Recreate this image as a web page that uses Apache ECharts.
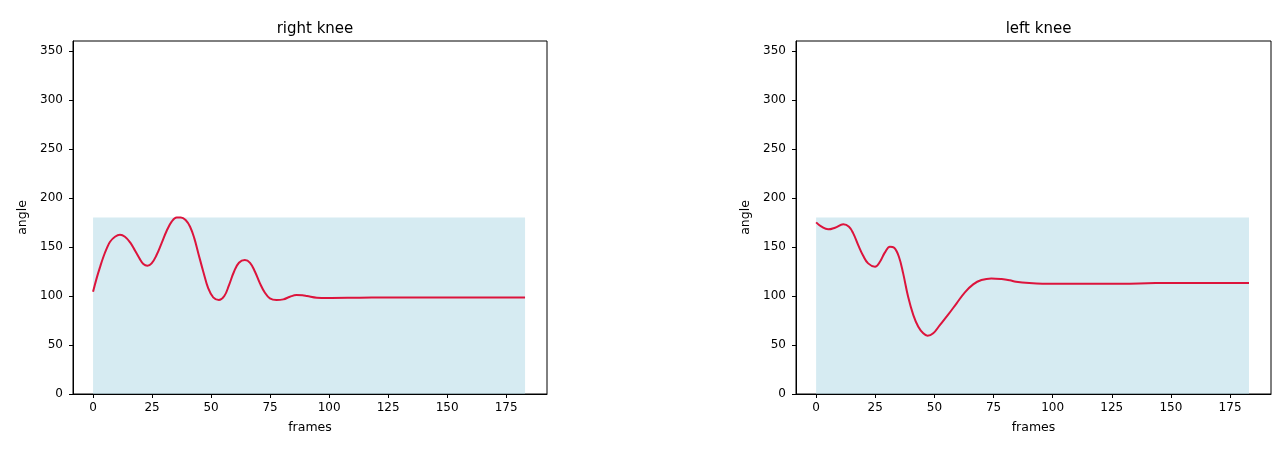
<!DOCTYPE html>
<html>
<head>
<meta charset="utf-8">
<script src="https://cdn.jsdelivr.net/npm/echarts@6/dist/echarts.min.js"></script>
<style>
html,body{margin:0;padding:0;background:#fff;}
#chart{width:1277px;height:451px;}
</style>
</head>
<body>
<div id="chart"></div>
<script>
// ---- data ----
const titles = ['right knee', 'left knee'];
const xName = 'frames';
const yName = 'angle';
const xTicks = [0, 25, 50, 75, 100, 125, 150, 175];
const yTicks = [0, 50, 100, 150, 200, 250, 300, 350];
const fillFrames = [0, 183];
const fillTop = [180, 180];

const rightFrames = [0,1.5,3,4.4,5.8,7.2,9.3,11.4,13.5,15.7,17.8,19.9,21.3,23,24.8,26.9,29,31.2,33.3,35.4,37.2,39.2,41.1,42.9,44.6,46.7,48.8,50.9,53.3,55.6,57.6,59.7,61.8,64.3,66.5,68.6,70.7,72.8,74.9,77.7,80.6,83.4,86.2,88.7,90.6,94.8,99.1,113,127,155,183];
const rightAngles = [104.3,117.9,129.8,140.0,148.5,155.3,160.4,162.4,160.4,154.6,146.1,137.3,132.5,130.8,133.2,141.7,153.6,166.5,175.7,180.1,180.1,177.4,170.6,158.7,143.4,124.7,107.7,98.6,95.8,99.9,111.1,124.7,133.8,136.6,133.8,124.7,112.8,103.3,97.5,95.8,96.5,99.2,100.9,100.6,99.9,98.2,97.9,98.2,98.5,98.5,98.5];

const leftFrames = [0,2.3,5.1,8,11.5,13.9,15.7,17.8,19.9,22,24.9,27,29.1,31.2,33,35,36.8,38.9,41.1,43.2,45.3,47.1,49.5,52.3,55.9,59.4,62.9,66.4,69.9,74.1,78.4,81.9,84.5,90.1,95.7,115.4,129.5,143.5,183];
const leftAngles = [175.0,170.6,167.9,169.6,173.0,170.6,163.8,151.9,141.0,133.2,129.8,134.9,144.4,150.2,149.1,140.0,123.0,99.2,80.5,68.6,61.9,59.4,61.9,70.3,81.2,92.5,103.7,111.8,116.2,117.9,117.2,115.9,114.5,113.1,112.5,112.5,112.5,113.1,113.1];

// ---- build chart ----
const FONT = 'DejaVu Sans';
const zip = (a, b) => a.map((v, i) => [v, b[i]]);
const grids = [
  {left: 73, top: 41, width: 474, height: 353},
  {left: 796, top: 41, width: 475, height: 353}
];
const curves = [zip(rightFrames, rightAngles), zip(leftFrames, leftAngles)];

const option = {
  animation: false,
  backgroundColor: '#fff',
  title: grids.map((g, i) => ({
    text: titles[i],
    left: g.left + g.width / 2,
    top: 17,
    textAlign: 'center',
    textStyle: {fontFamily: FONT, fontSize: 15, fontWeight: 'normal', color: '#000'}
  })),
  grid: grids.map(g => Object.assign({show: true, borderColor: '#000', borderWidth: 1, backgroundColor: 'transparent'}, g)),
  xAxis: grids.map((g, i) => ({
    type: 'value', gridIndex: i, min: -8.5, max: 192.3,
    name: xName, nameLocation: 'middle', nameGap: 27,
    nameTextStyle: {fontFamily: FONT, fontSize: 12.5, color: '#000'},
    axisLine: {show: true, onZero: false, lineStyle: {color: '#000', width: 1}},
    axisTick: {show: true, length: 4, customValues: xTicks, lineStyle: {color: '#000'}},
    axisLabel: {customValues: xTicks, fontFamily: FONT, fontSize: 12, color: '#000', margin: 8},
    splitLine: {show: false}
  })),
  yAxis: grids.map((g, i) => ({
    type: 'value', gridIndex: i, min: 0, max: 360,
    name: yName, nameLocation: 'middle', nameGap: 44, nameRotate: 90,
    nameTextStyle: {fontFamily: FONT, fontSize: 12.5, color: '#000'},
    axisLine: {show: true, onZero: false, lineStyle: {color: '#000', width: 1}},
    axisTick: {show: true, length: 4, customValues: yTicks, lineStyle: {color: '#000'}},
    axisLabel: {customValues: yTicks, fontFamily: FONT, fontSize: 12, color: '#000', margin: 10},
    splitLine: {show: false}
  })),
  series: []
};
grids.forEach((g, i) => {
  option.series.push({
    type: 'line', xAxisIndex: i, yAxisIndex: i,
    data: zip(fillFrames, fillTop),
    showSymbol: false, silent: true,
    lineStyle: {width: 0, opacity: 0},
    areaStyle: {color: 'rgba(173,216,230,0.5)', opacity: 1}
  });
  option.series.push({
    type: 'line', xAxisIndex: i, yAxisIndex: i,
    data: curves[i], smooth: 0.4, showSymbol: false,
    lineStyle: {color: '#dc143c', width: 2}
  });
});
const chart = echarts.init(document.getElementById('chart'), null, {renderer: 'canvas'});
chart.setOption(option);
</script>
</body>
</html>
